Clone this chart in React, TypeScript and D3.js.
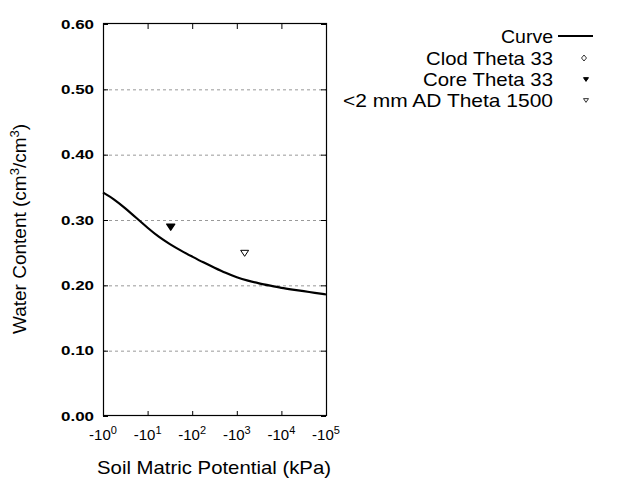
import React, { useEffect, useRef } from "react";
import * as d3 from "d3";

// curve: decade of |h| (kPa) and water content
const curve_decades: number[] = [0, 0.25, 0.5, 0.75, 1.0, 1.25, 1.5, 1.75, 2.0, 2.25, 2.5, 2.75, 3.0, 3.25, 3.5, 3.75, 4.0, 4.25, 4.5, 4.75, 5.0];
const curve_theta: number[]   = [0.342, 0.332, 0.318, 0.303, 0.288, 0.274, 0.263, 0.253, 0.244, 0.235, 0.227, 0.219, 0.212, 0.207, 0.203, 0.1995, 0.196, 0.1935, 0.191, 0.1885, 0.186];

const core_kpa: number[]   = [33];
const core_theta: number[] = [0.289];
const ad_kpa: number[]     = [1500];
const ad_theta: number[]   = [0.249];

const x_tick_exp: number[] = [0, 1, 2, 3, 4, 5];
const y_ticks: number[]    = [0, 0.1, 0.2, 0.3, 0.4, 0.5, 0.6];
const legend_labels: string[] = ["Curve", "Clod Theta 33", "Core Theta 33", "<2 mm AD Theta 1500"];
const legend_widths: number[] = [52, 127, 130, 210];

const FONT = "'Liberation Sans', Arial, sans-serif";

export default function App() {
    const svg_ref = useRef<SVGSVGElement>(null);

    useEffect(() => {
        const svg = d3.select(svg_ref.current!);
        svg.selectAll("*").remove();

        const margin = { top: 24, left: 103, right: 326, bottom: 416 };

        const x = d3.scaleLog().domain([1, 1e5]).range([margin.left, margin.right]);
        const y = d3.scaleLinear().domain([0, 0.6]).range([margin.bottom, margin.top]);

        svg.append("rect").attr("width", 640).attr("height", 480).attr("fill", "white");

        // dotted grid
        svg.append("g")
            .selectAll("line")
            .data(y_ticks.filter(t => t > 0 && t < 0.6))
            .join("line")
            .attr("x1", margin.left).attr("x2", margin.right)
            .attr("y1", d => y(d) + 0.5).attr("y2", d => y(d) + 0.5)
            .attr("stroke", "#999").attr("stroke-width", 1)
            .attr("stroke-dasharray", "3,3");

        // frame
        svg.append("rect")
            .attr("x", margin.left + 0.5).attr("y", margin.top - 0.5)
            .attr("width", margin.right - margin.left).attr("height", margin.bottom - margin.top)
            .attr("fill", "none").attr("stroke", "black").attr("stroke-width", 1.2);

        // inner ticks on all four sides
        const tk = 5;
        const tg = svg.append("g").attr("stroke", "black");
        y_ticks.forEach(t => {
            tg.append("line").attr("x1", margin.left).attr("x2", margin.left + tk).attr("y1", y(t) + 0.5).attr("y2", y(t) + 0.5);
            tg.append("line").attr("x1", margin.right - tk).attr("x2", margin.right).attr("y1", y(t) + 0.5).attr("y2", y(t) + 0.5);
        });
        x_tick_exp.forEach(e => {
            const px = x(Math.pow(10, e)) + 0.5;
            tg.append("line").attr("x1", px).attr("x2", px).attr("y1", margin.bottom).attr("y2", margin.bottom - tk);
            tg.append("line").attr("x1", px).attr("x2", px).attr("y1", margin.top).attr("y2", margin.top + tk);
        });

        // y tick labels
        svg.append("g")
            .selectAll("text")
            .data(y_ticks)
            .join("text")
            .attr("x", 94).attr("y", d => y(d) + 4.5)
            .attr("text-anchor", "end")
            .attr("font-family", FONT).attr("font-size", 13).attr("font-weight", "bold")
            .attr("textLength", 33).attr("lengthAdjust", "spacingAndGlyphs")
            .text(d => d.toFixed(2));

        // x tick labels with superscripts
        const xl = svg.append("g").attr("font-family", FONT).attr("font-size", 15);
        x_tick_exp.forEach(e => {
            const t = xl.append("text")
                .attr("x", x(Math.pow(10, e))).attr("y", 440)
                .attr("text-anchor", "middle");
            t.append("tspan").text("-10");
            t.append("tspan").attr("dy", -6).attr("font-size", 11).text(String(e));
        });

        // axis titles
        svg.append("text")
            .attr("x", 214).attr("y", 474)
            .attr("text-anchor", "middle")
            .attr("font-family", FONT).attr("font-size", 19)
            .attr("textLength", 234).attr("lengthAdjust", "spacingAndGlyphs")
            .text("Soil Matric Potential (kPa)");

        const yt = svg.append("text")
            .attr("transform", "translate(26,229) rotate(-90)")
            .attr("text-anchor", "middle")
            .attr("font-family", FONT).attr("font-size", 19);
        yt.append("tspan").text("Water Content (cm");
        yt.append("tspan").attr("dy", -7).attr("font-size", 13).text("3");
        yt.append("tspan").attr("dy", 7).text("/cm");
        yt.append("tspan").attr("dy", -7).attr("font-size", 13).text("3");
        yt.append("tspan").attr("dy", 7).text(")");

        // curve
        const pts: [number, number][] = curve_decades.map((d, i) => [x(Math.pow(10, d)), y(curve_theta[i])]);
        svg.append("path")
            .attr("d", d3.line().curve(d3.curveBasis)(pts))
            .attr("fill", "none").attr("stroke", "black").attr("stroke-width", 2.2);

        // markers
        const tri = (cx: number, cy: number, s: number) =>
            `M${cx - s},${cy - s * 0.75}L${cx + s},${cy - s * 0.75}L${cx},${cy + s * 0.75}Z`;

        core_kpa.forEach((k, i) => {
            svg.append("path").attr("d", tri(x(k), y(core_theta[i]), 4))
                .attr("fill", "black").attr("stroke", "black").attr("stroke-width", 1.4)
                .attr("stroke-linejoin", "round");
        });
        ad_kpa.forEach((k, i) => {
            svg.append("path").attr("d", tri(x(k), y(ad_theta[i]), 4))
                .attr("fill", "white").attr("stroke", "black");
        });

        // legend
        const lg = svg.append("g").attr("font-family", FONT).attr("font-size", 19);
        const rows = [36, 58, 79.5, 100.5];
        const sx = 586;
        legend_labels.forEach((lab, i) => {
            lg.append("text").attr("x", 553).attr("y", rows[i] + 6.5)
                .attr("text-anchor", "end")
                .attr("textLength", legend_widths[i]).attr("lengthAdjust", "spacingAndGlyphs")
                .text(lab);
        });
        lg.append("line").attr("x1", 558).attr("x2", 593).attr("y1", rows[0]).attr("y2", rows[0])
            .attr("stroke", "black").attr("stroke-width", 2);
        lg.append("path")
            .attr("d", `M${sx - 2},${rows[1] - 3}L${sx + 0.5},${rows[1]}L${sx - 2},${rows[1] + 3}L${sx - 4.5},${rows[1]}Z`)
            .attr("fill", "white").attr("stroke", "black").attr("stroke-width", 0.8);
        lg.append("path").attr("d", tri(sx, rows[2], 2.5)).attr("fill", "black").attr("stroke", "black");
        lg.append("path").attr("d", tri(sx, rows[3], 2.5)).attr("fill", "white").attr("stroke", "black").attr("stroke-width", 0.8);
    }, []);

    return (
        <svg
            ref={svg_ref}
            width={640}
            height={480}
            style={{ position: "absolute", left: 0, top: 0 }}
        />
    );
}
